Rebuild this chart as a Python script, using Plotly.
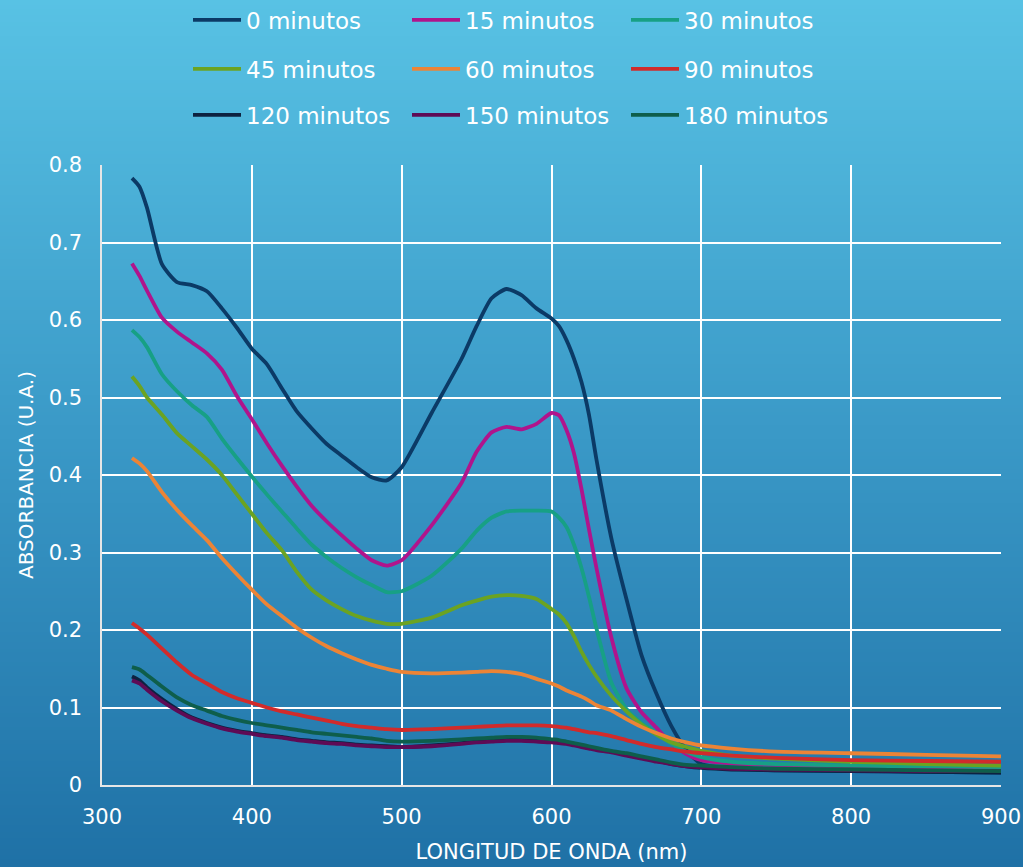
import base64, struct, zlib
import plotly.graph_objects as go

# ---------------- data ----------------
wavelength = [320, 325, 330, 340, 350, 360, 370, 380, 390, 400, 410, 420, 430, 440, 450, 460, 470, 480, 490, 500,
              520, 540, 550, 560, 570, 580, 590, 600, 605, 610, 615, 620, 625, 630, 640, 650, 660,
              670, 680, 690, 700, 720, 750, 800, 850, 900]

abs_0 = [0.783, 0.772, 0.745, 0.672, 0.649, 0.645, 0.637, 0.615, 0.590, 0.563, 0.543, 0.512, 0.482, 0.460, 0.440, 0.425, 0.410, 0.397, 0.393, 0.410,
         0.480, 0.550, 0.592, 0.628, 0.640, 0.632, 0.615, 0.602, 0.592, 0.574, 0.550, 0.520, 0.478, 0.420, 0.318, 0.240, 0.168,
         0.118, 0.076, 0.045, 0.027, 0.021, 0.019, 0.018, 0.017, 0.016]
abs_15 = [0.673, 0.657, 0.638, 0.603, 0.585, 0.571, 0.557, 0.536, 0.502, 0.472, 0.441, 0.412, 0.385, 0.360, 0.340, 0.322, 0.305, 0.290, 0.283, 0.290,
          0.335, 0.390, 0.430, 0.455, 0.462, 0.459, 0.466, 0.480, 0.477, 0.458, 0.428, 0.382, 0.330, 0.280, 0.190, 0.125, 0.094,
          0.074, 0.053, 0.040, 0.032, 0.028, 0.026, 0.024, 0.023, 0.022]
abs_30 = [0.587, 0.578, 0.565, 0.530, 0.508, 0.490, 0.475, 0.447, 0.422, 0.398, 0.375, 0.353, 0.331, 0.310, 0.294, 0.280, 0.268, 0.258, 0.249, 0.250,
          0.270, 0.305, 0.328, 0.345, 0.353, 0.354, 0.354, 0.353, 0.345, 0.333, 0.310, 0.280, 0.243, 0.202, 0.132, 0.098, 0.080,
          0.067, 0.053, 0.043, 0.036, 0.030, 0.027, 0.025, 0.024, 0.023]
abs_45 = [0.527, 0.515, 0.500, 0.478, 0.454, 0.437, 0.420, 0.400, 0.375, 0.350, 0.325, 0.303, 0.275, 0.252, 0.238, 0.227, 0.218, 0.212, 0.208, 0.208,
          0.216, 0.232, 0.238, 0.243, 0.245, 0.244, 0.240, 0.227, 0.220, 0.209, 0.192, 0.172, 0.155, 0.140, 0.115, 0.095, 0.078,
          0.065, 0.055, 0.049, 0.044, 0.038, 0.034, 0.030, 0.027, 0.025]
abs_60 = [0.422, 0.415, 0.405, 0.378, 0.355, 0.335, 0.316, 0.293, 0.272, 0.252, 0.233, 0.218, 0.203, 0.190, 0.179, 0.170, 0.162, 0.155, 0.150, 0.146,
          0.144, 0.145, 0.146, 0.147, 0.146, 0.143, 0.137, 0.131, 0.127, 0.122, 0.118, 0.114, 0.109, 0.103, 0.096, 0.085, 0.075,
          0.067, 0.060, 0.055, 0.051, 0.047, 0.043, 0.041, 0.039, 0.037]
abs_90 = [0.209, 0.202, 0.194, 0.176, 0.158, 0.142, 0.131, 0.120, 0.112, 0.106, 0.100, 0.095, 0.091, 0.087, 0.083, 0.079, 0.076, 0.074, 0.072, 0.071,
          0.072, 0.074, 0.075, 0.076, 0.077, 0.077, 0.077, 0.076, 0.075, 0.074, 0.072, 0.070, 0.068, 0.067, 0.063, 0.058, 0.053,
          0.049, 0.046, 0.043, 0.041, 0.038, 0.035, 0.032, 0.031, 0.030]
abs_120 = [0.140, 0.135, 0.126, 0.111, 0.098, 0.087, 0.080, 0.074, 0.070, 0.067, 0.064, 0.062, 0.059, 0.057, 0.055, 0.054, 0.052, 0.051, 0.050, 0.049,
           0.051, 0.054, 0.056, 0.057, 0.058, 0.058, 0.057, 0.056, 0.055, 0.054, 0.052, 0.050, 0.048, 0.046, 0.043, 0.039, 0.035,
           0.031, 0.027, 0.024, 0.022, 0.020, 0.019, 0.018, 0.017, 0.016]
abs_150 = [0.135, 0.131, 0.123, 0.108, 0.096, 0.086, 0.079, 0.073, 0.069, 0.066, 0.063, 0.061, 0.058, 0.056, 0.054, 0.053, 0.051, 0.050, 0.049, 0.049,
           0.050, 0.053, 0.055, 0.056, 0.057, 0.057, 0.056, 0.055, 0.054, 0.053, 0.051, 0.049, 0.047, 0.045, 0.042, 0.038, 0.034,
           0.030, 0.027, 0.024, 0.023, 0.021, 0.020, 0.019, 0.018, 0.018]
abs_180 = [0.152, 0.149, 0.142, 0.127, 0.113, 0.103, 0.096, 0.089, 0.084, 0.080, 0.077, 0.074, 0.071, 0.068, 0.066, 0.064, 0.062, 0.060, 0.057, 0.056,
           0.057, 0.059, 0.060, 0.061, 0.062, 0.062, 0.061, 0.059, 0.058, 0.056, 0.054, 0.052, 0.050, 0.048, 0.044, 0.041, 0.037,
           0.033, 0.029, 0.026, 0.025, 0.023, 0.021, 0.020, 0.019, 0.018]

series_names = ["0 minutos", "15 minutos", "30 minutos", "45 minutos", "60 minutos", "90 minutos",
                "120 minutos", "150 minutos", "180 minutos"]
series_values = [abs_0, abs_15, abs_30, abs_45, abs_60, abs_90, abs_120, abs_150, abs_180]
series_colors = ["#0B3A66", "#B0148C", "#17A085", "#6BA322", "#EC8436", "#D12B2B",
                 "#0D2240", "#5E0B55", "#0E5E4B"]
legend_ids = ["legend", "legend", "legend", "legend2", "legend2", "legend2", "legend3", "legend3", "legend3"]

x_ticks = [300, 400, 500, 600, 700, 800, 900]
y_ticks = [0, 0.1, 0.2, 0.3, 0.4, 0.5, 0.6, 0.7, 0.8]
y_labels = ["0", "0.1", "0.2", "0.3", "0.4", "0.5", "0.6", "0.7", "0.8"]

# ---------------- background gradient (PNG, 1 x N) ----------------
def gradient_png(stops, n=256):
    rows = b""
    for i in range(n):
        t = i / (n - 1)
        for j in range(len(stops) - 1):
            t0, c0 = stops[j]
            t1, c1 = stops[j + 1]
            if t0 <= t <= t1:
                f = (t - t0) / (t1 - t0) if t1 > t0 else 0
                c = [round(c0[k] + (c1[k] - c0[k]) * f) for k in range(3)]
                break
        rows += b"\x00" + bytes(c)
    def chunk(tag, data):
        return struct.pack(">I", len(data)) + tag + data + struct.pack(">I", zlib.crc32(tag + data) & 0xFFFFFFFF)
    png = b"\x89PNG\r\n\x1a\n" + chunk(b"IHDR", struct.pack(">IIBBBBB", 1, n, 8, 2, 0, 0, 0))
    png += chunk(b"IDAT", zlib.compress(rows)) + chunk(b"IEND", b"")
    return "data:image/png;base64," + base64.b64encode(png).decode()

bg = gradient_png([(0.0, (88, 194, 228)), (0.5, (58, 153, 199)), (1.0, (31, 113, 166))])

W, H = 1023, 867
L, R, T, B = 102, 22, 165, 82
pw, ph = W - L - R, H - T - B

FONT = "DejaVu Sans"

fig = go.Figure()
for name, vals, col, lg in zip(series_names, series_values, series_colors, legend_ids):
    fig.add_trace(go.Scatter(x=wavelength, y=vals, name=name, mode="lines",
                             line=dict(color=col, width=3.8, shape="spline", smoothing=0.6),
                             legend=lg))

def leg(ypix):
    return dict(orientation="h", xref="container", yref="container",
                x=188 / W, xanchor="left", y=1 - ypix / H, yanchor="middle",
                entrywidth=156, entrywidthmode="pixels", bgcolor="rgba(0,0,0,0)",
                font=dict(family=FONT, size=23, color="white"), itemwidth=48, traceorder="normal")

fig.update_layout(
    width=W, height=H,
    margin=dict(l=L, r=R, t=T, b=B, autoexpand=False),
    paper_bgcolor="#3A99C7",
    plot_bgcolor="rgba(0,0,0,0)",
    font=dict(family=FONT, color="white"),
    legend=leg(20), legend2=leg(69), legend3=leg(115),
    images=[dict(source=bg, xref="paper", yref="paper", x=-L / pw, y=(H - B) / ph,
                 sizex=W / pw, sizey=H / ph, sizing="stretch", xanchor="left", yanchor="top",
                 layer="below")],
    xaxis=dict(range=[300, 900], tickvals=x_ticks, showgrid=True, gridcolor="white", gridwidth=1.5,
               showline=True, linecolor="#E6E6E6", linewidth=1.5, zeroline=False, ticks="",
               automargin=False, ticklabelstandoff=12,
               tickfont=dict(family=FONT, size=21, color="white"),
               title=dict(text="LONGITUD DE ONDA (nm)", font=dict(family=FONT, size=21, color="white"),
                          standoff=16)),
    yaxis=dict(range=[0, 0.8], tickvals=y_ticks, ticktext=y_labels, showgrid=True, gridcolor="white",
               gridwidth=1.5, showline=True, linecolor="#E6E6E6", linewidth=1.5, zeroline=False, ticks="",
               automargin=False, ticklabelstandoff=14,
               tickfont=dict(family=FONT, size=21, color="white"),
               title=dict(text="ABSORBANCIA (U.A.)", font=dict(family=FONT, size=20, color="white"),
                          standoff=10)),
)

fig.write_html("out.html", config={"displayModeBar": False},
               post_script="document.body.style.margin='0';document.body.style.padding='0';")
